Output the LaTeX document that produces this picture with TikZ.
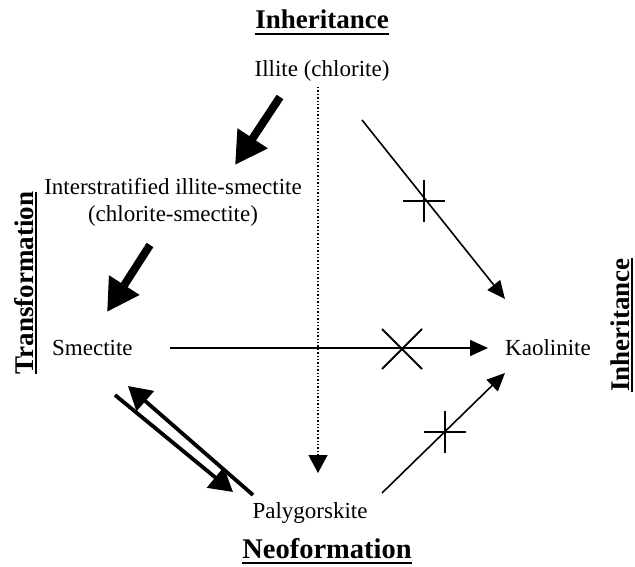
\documentclass[tikz,border=0pt]{standalone}
\usepackage{fontspec}
\setmainfont{Liberation Serif}
\usetikzlibrary{arrows.meta}
\begin{document}
\begin{tikzpicture}[x=1pt,y=-1pt,
  lbl/.style={inner sep=0pt, font=\fontsize{23}{26}\selectfont},
  head/.style={inner sep=0pt, font=\fontsize{27}{30}\selectfont\bfseries},
  uline/.style={line width=2.2pt},
  thick arrow/.style={line width=8pt, -{Triangle[length=32pt,width=34pt]}},
  dbl/.style={line width=3.8pt, -{Triangle[length=23pt,width=26pt]}},
  thin/.style={line width=1.6pt, -{Triangle[length=18pt,width=16pt]}},
  crossbar/.style={line width=1.8pt}]
\useasboundingbox (0,0) rectangle (635,567);

% headings
\node[head, anchor=base] (hTop) at (322,29) {Inheritance};
\draw[uline] ([yshift=-5pt]hTop.base west) -- ([yshift=-5pt]hTop.base east);
\node[head, anchor=base, font=\fontsize{28.5}{31}\selectfont\bfseries] (hBot) at (327,558) {Neoformation};
\draw[uline] ([yshift=-5pt]hBot.base west) -- ([yshift=-5pt]hBot.base east);
\node[head, anchor=base, rotate=90] (hLeft) at (33,283) {Transformation};
\draw[uline] ([xshift=3pt]hLeft.base west) -- ([xshift=3pt]hLeft.base east);
\node[head, anchor=base, rotate=90] (hRight) at (629,325) {Inheritance};
\draw[uline] ([xshift=3pt]hRight.base west) -- ([xshift=3pt]hRight.base east);

% minerals
\node[lbl, anchor=base] (ill) at (322,77) {Illite (chlorite)};
\node[lbl, anchor=base] (int) at (173,195) {Interstratified illite-smectite};
\node[lbl, anchor=base] (int2) at (173,222) {(chlorite-smectite)};
\node[lbl, anchor=base west] (sme) at (52,355) {Smectite};
\node[lbl, anchor=base west] (kao) at (505,355) {Kaolinite};
\node[lbl, anchor=base] (pal) at (310,518) {Palygorskite};

% connector end points
\coordinate (a1s) at (280,97);  \coordinate (a1e) at (235,165);
\coordinate (a2s) at (150,245); \coordinate (a2e) at (107,312);
\coordinate (dts) at (318,87);  \coordinate (dte) at (318,473);
\coordinate (h1s) at (170,348); \coordinate (h1e) at (488,348);
\coordinate (r1s) at (362,120); \coordinate (r1e) at (505,299);
\coordinate (r2s) at (382,493); \coordinate (r2e) at (505,373);
\coordinate (d1s) at (253,495); \coordinate (d1e) at (128,386);
\coordinate (d2s) at (115,395); \coordinate (d2e) at (233,492);

% thick arrows
\draw[thick arrow] (a1s) -- (a1e);
\draw[thick arrow] (a2s) -- (a2e);

% dotted
\draw[line width=1.4pt, dotted, -{Triangle[length=18pt,width=19pt]}] (dts) -- (dte);

% thin arrows
\draw[thin] (h1s) -- (h1e);
\draw[thin] (r1s) -- (r1e);
\draw[thin] (r2s) -- (r2e);

% crosses
\coordinate (c1) at (424,201);
\draw[crossbar] ([xshift=-21pt]c1) -- ([xshift=21pt]c1) ([yshift=-21pt]c1) -- ([yshift=21pt]c1);
\coordinate (c2) at (402,349);
\draw[crossbar] ([shift={(-20pt,-20pt)}]c2) -- ([shift={(20pt,20pt)}]c2) ([shift={(-20pt,20pt)}]c2) -- ([shift={(20pt,-20pt)}]c2);
\coordinate (c3) at (445,432);
\draw[crossbar] ([xshift=-21pt]c3) -- ([xshift=21pt]c3) ([yshift=-21pt]c3) -- ([yshift=21pt]c3);

% double arrow
\draw[dbl] (d1s) -- (d1e);
\draw[dbl] (d2s) -- (d2e);
\end{tikzpicture}
\end{document}
